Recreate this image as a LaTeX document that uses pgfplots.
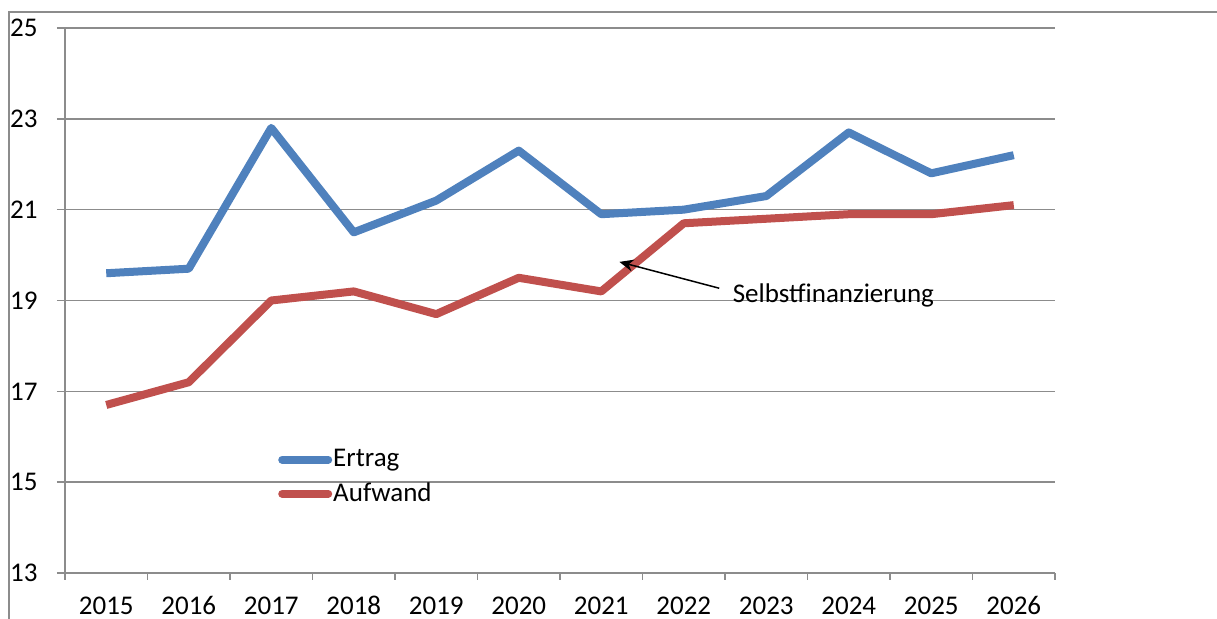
\documentclass[border=0pt]{standalone}
\usepackage{fontspec}
\setmainfont{Carlito}
\usepackage{pgfplots}
\pgfplotsset{compat=1.18}
\usetikzlibrary{arrows.meta}

\definecolor{ertrag}{HTML}{4F81BD}
\definecolor{aufwand}{HTML}{C0504D}
\definecolor{gridgray}{HTML}{8C8C8C}

\pgfplotstableread{
idx ertrag aufwand
0  19.6 16.7
1  19.7 17.2
2  22.8 19.0
3  20.5 19.2
4  21.2 18.7
5  22.3 19.5
6  20.9 19.2
7  21.0 20.7
8  21.3 20.8
9  22.7 20.9
10 21.8 20.9
11 22.2 21.1
}\data

\begin{document}
\begin{tikzpicture}
% 1 px of the reference = 0.5pt
\useasboundingbox (0,0) rectangle (608.5pt,-309.5pt);
\draw[gridgray, line width=0.75pt] (4.5pt,-309.5pt) -- (4.5pt,-6pt) -- (608.5pt,-6pt);
\begin{axis}[
    at={(32.5pt,-286.5pt)}, anchor=south west,
    scale only axis, width=495pt, height=272.5pt,
    xmin=-0.5, xmax=11.5, ymin=13, ymax=25,
    ytick={13,15,...,25},
    xtick={0,...,11},
    xticklabels={2015,2016,2017,2018,2019,2020,2021,2022,2023,2024,2025,2026},
    minor xtick={-0.5,0.5,...,11.5},
    axis lines*=left,
    axis line style={gridgray, line width=0.75pt},
    ymajorgrids, grid style={gridgray, line width=0.75pt},
    tick align=outside,
    major tick length=4pt, minor tick length=3.5pt,
    major x tick style={draw=none},
    every tick/.style={gridgray, line width=0.75pt},
    tick label style={font=\fontsize{13.5}{15}\selectfont, text=black},
    /pgf/number format/assume math mode=true,
    yticklabel style={anchor=west, xshift=-27pt},
    xticklabel style={anchor=north, text height=9pt, text depth=0pt, inner sep=0pt, yshift=-7.5pt},
    clip=false,
    legend style={at={(axis description cs:0.215,0.176)}, anchor=west,
        draw=none, fill=none, inner sep=0pt,
        font=\fontsize{13.5}{15}\selectfont, row sep=5.5pt,
        nodes={inner sep=0.5pt}},
    legend cell align=left,
    legend image code/.code={\draw[#1, line width=4pt, line cap=round] (2pt,0pt) -- (25pt,0pt);},
]
\addplot[ertrag, line width=4pt, line join=round] table[x=idx, y=ertrag] {\data};
\addlegendentry{Ertrag}
\addplot[aufwand, line width=4pt, line join=round] table[x=idx, y=aufwand] {\data};
\addlegendentry{Aufwand}
\draw[black, line width=0.75pt, -{Stealth[length=7pt, width=6pt]}] (axis cs:7.43,19.27) -- (axis cs:6.22,19.85);
\node[font=\fontsize{13.5}{15}\selectfont, anchor=west, inner sep=0pt] at (axis cs:7.59,19.12) {Selbstfinanzierung};
\end{axis}
\end{tikzpicture}
\end{document}
